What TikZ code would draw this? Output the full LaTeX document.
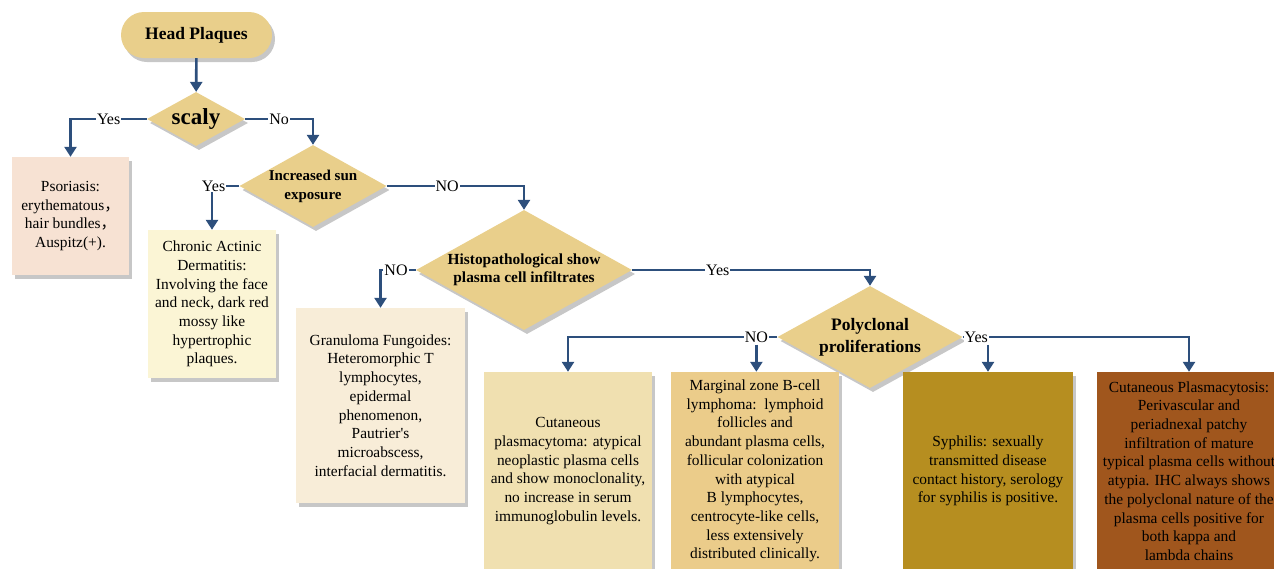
\documentclass[tikz,border=0pt]{standalone}
\usepackage{fontspec}
\setmainfont{Liberation Serif}
\newfontfamily\cjk{Noto Sans CJK SC}
\usetikzlibrary{arrows.meta,positioning,shapes.geometric,shadows}

\definecolor{sand}{HTML}{E9CF8B}
\definecolor{peach}{HTML}{F7E2D3}
\definecolor{lemon}{HTML}{FBF5D5}
\definecolor{cream}{HTML}{F8EDD8}
\definecolor{wheat}{HTML}{F0E0B0}
\definecolor{tan}{HTML}{EBCC8A}
\definecolor{ochre}{HTML}{B68E20}
\definecolor{rust}{HTML}{A0561D}
\definecolor{flow}{HTML}{2D4F7C}

\begin{document}
\begin{tikzpicture}[x=1pt,y=-1pt,
shd/.style={drop shadow={shadow xshift=3pt,shadow yshift=-4pt,fill=black!22,opacity=1}},
term/.style={shd,rectangle,rounded corners=23pt,fill=sand,minimum width=151pt,minimum height=46pt,font=\bfseries\fontsize{17.5}{21}\selectfont},
dec/.style={shd,diamond,fill=sand,inner sep=-10pt,align=center,font=\bfseries\fontsize{15.4}{18.3}\selectfont},
cell/.style={shd,rectangle,inner sep=2pt,align=center,font=\fontsize{15.4}{18.7}\selectfont},
arr/.style={-{Triangle[length=10pt,width=12pt]},line width=2.6pt,draw=flow},
lbl/.style={fill=white,inner sep=1pt,font=\fontsize{16}{18}\selectfont}]
\clip (0,0) rectangle (1274,568);
% start and questions
\node[term] (hp) at (196.5,35) {Head Plaques};
\node[dec,aspect=1.8,minimum width=98pt,minimum height=54pt,font=\bfseries\fontsize{23}{26}\selectfont] (scaly) at (196,119) {scaly};
\node[dec,aspect=1.8,minimum width=147pt,minimum height=82pt,font=\bfseries\fontsize{15}{19}\selectfont] (sun) at (313,186) {Increased sun\\exposure};
\node[dec,aspect=1.8,minimum width=216pt,minimum height=120pt] (histo) at (524,270) {Histopathological show\\plasma cell infiltrates};
\node[dec,aspect=1.8,minimum width=185pt,minimum height=102pt,font=\bfseries\fontsize{17.5}{22}\selectfont] (poly) at (870,337) {Polyclonal\\proliferations};
% diagnoses
\node[cell,fill=peach,minimum width=117pt,minimum height=118pt] (ps) at (70.5,216) {Psoriasis:\\erythematous{\cjk ，}\\hair bundles{\cjk ，}\\Auspitz(+).};
\node[cell,fill=lemon,minimum width=128pt,minimum height=148pt] (cad) at (212,304) {Chronic Actinic\\Dermatitis:\\Involving the face\\and neck, dark red\\mossy like\\hypertrophic\\plaques.};
\node[cell,fill=cream,minimum width=169pt,minimum height=195pt] (gf) at (380.5,405.5) {Granuloma Fungoides:\\Heteromorphic T\\lymphocytes,\\epidermal\\phenomenon,\\Pautrier\textquotesingle s\\microabscess,\\interfacial dermatitis.};
\node[cell,fill=wheat,minimum width=168pt,minimum height=198pt] (cpm) at (568,471) {Cutaneous\\plasmacytoma: atypical\\neoplastic plasma cells\\and show monoclonality,\\no increase in serum\\immunoglobulin levels.};
\node[cell,fill=tan,minimum width=168pt,minimum height=198pt] (mz) at (755,471) {Marginal zone B-cell\\lymphoma:\ \ lymphoid\\follicles and\\abundant plasma cells,\\follicular colonization\\with atypical\\B lymphocytes,\\centrocyte-like cells,\\less extensively\\distributed clinically.};
\node[cell,fill=ochre,minimum width=170pt,minimum height=198pt] (syph) at (988,471) {Syphilis: sexually\\transmitted disease\\contact history, serology\\for syphilis is positive.};
\node[cell,fill=rust,minimum width=184pt,minimum height=198pt] (cpt) at (1189,471) {Cutaneous Plasmacytosis:\\Perivascular and\\periadnexal patchy\\infiltration of mature\\typical plasma cells without\\atypia. IHC always shows\\the polyclonal nature of the\\plasma cells positive for\\both kappa and\\lambda chains};
% connectors
\draw[arr] (hp) -- (scaly);
\draw[arr] (scaly.west) -| node[lbl,pos=0.25]{Yes} (ps.north);
\draw[arr] (scaly.east) -| node[lbl,pos=0.25]{No} (sun.north);
\draw[arr] (sun.west) -| node[lbl,pos=0.47]{Yes} (cad.north);
\draw[arr] (sun.east) -| node[lbl,pos=0.22]{NO} (histo.north);
\draw[arr] (histo.west) -| node[lbl,pos=0.28]{NO} (gf.north);
\draw[arr] (histo.east) -| node[lbl,pos=0.18]{Yes} (poly.north);
\draw[arr] (poly.west) -| node[lbl,pos=0.05] (no4) {NO} (cpm.north);
\draw[arr] (no4.south) -- (no4.south |- mz.north);
\draw[arr] (poly.east) -| node[lbl,pos=0.03] (yes4) {Yes} (cpt.north);
\draw[arr] (syph.north |- yes4.south) -- (syph.north);
\end{tikzpicture}
\end{document}
